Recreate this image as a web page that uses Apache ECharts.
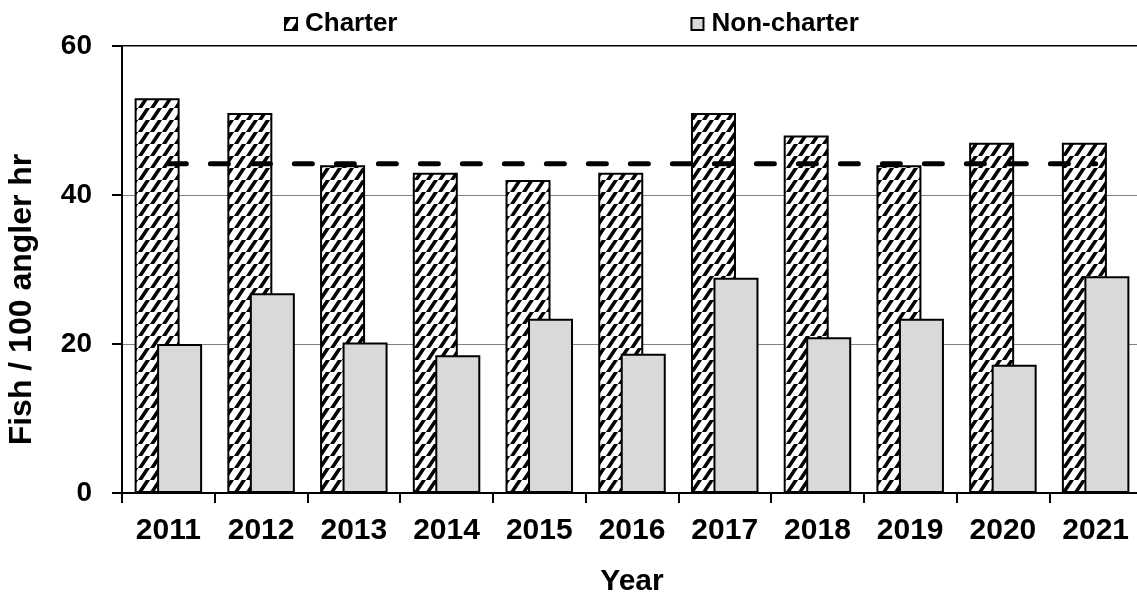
<!DOCTYPE html>
<html>
<head>
<meta charset="utf-8">
<script src="https://cdn.jsdelivr.net/npm/echarts@6/dist/echarts.min.js"></script>
<style>
  html, body { margin: 0; padding: 0; background: #fff; }
  #chart { width: 1137px; height: 599px; }
</style>
</head>
<body>
<div id="chart"></div>
<script>
const years = ['2011', '2012', '2013', '2014', '2015', '2016', '2017', '2018', '2019', '2020', '2021'];
const charter = [53, 51, 44, 43, 42, 43, 51, 48, 44, 47, 47];
const nonCharter = [20, 26.8, 20.2, 18.5, 23.4, 18.7, 28.9, 20.9, 23.4, 17.2, 29.1];
const charterMean = [44.2, 44.2, 44.2, 44.2, 44.2, 44.2, 44.2, 44.2, 44.2, 44.2, 44.2];
const yTicks = [0, 20, 40, 60];

// diagonal hatch for the charter bars
function hatch() {
  const c = document.createElement('canvas');
  c.width = 12;
  c.height = 12;
  const ctx = c.getContext('2d');
  ctx.fillStyle = '#fff';
  ctx.fillRect(0, 0, 12, 12);
  ctx.strokeStyle = '#000';
  ctx.lineWidth = 3.5;
  ctx.beginPath();
  for (let k = -12; k <= 24; k += 12) {
    ctx.moveTo(k - 12, 24);
    ctx.lineTo(k + 12, -12);
  }
  ctx.stroke();
  return c;
}

const font = 'Liberation Sans, Arial, sans-serif';
const chart = echarts.init(document.getElementById('chart'));

chart.setOption({
  animation: false,
  backgroundColor: '#fff',
  textStyle: { fontFamily: font, color: '#000' },
  legend: {
    data: ['Charter', 'Non-charter'],
    left: 279,
    top: 6,
    itemWidth: 12,
    itemHeight: 12,
    itemGap: 293,
    icon: 'rect',
    textStyle: { fontSize: 26, fontWeight: 'bold', color: '#000', fontFamily: font, padding: [0, 0, 0, 3] }
  },
  grid: {
    left: 122,
    top: 46,
    width: 1020,
    bottom: 106,
    outerBoundsMode: 'none',
    show: true,
    borderColor: '#000',
    borderWidth: 2,
    backgroundColor: 'transparent'
  },
  xAxis: {
    type: 'category',
    data: years,
    name: 'Year',
    nameLocation: 'middle',
    nameGap: 74,
    nameTextStyle: { fontSize: 30, fontWeight: 'bold', color: '#000' },
    axisLine: { lineStyle: { color: '#000', width: 2 } },
    axisTick: { show: true, length: 10, interval: 0, lineStyle: { color: '#000', width: 2 } },
    axisLabel: { margin: 23, fontSize: 30, fontWeight: 'bold', color: '#000', interval: 0 }
  },
  yAxis: {
    type: 'value',
    min: yTicks[0],
    max: yTicks[yTicks.length - 1],
    interval: 20,
    name: 'Fish / 100 angler hr',
    nameLocation: 'middle',
    nameGap: 84,
    nameTextStyle: { fontSize: 32, fontWeight: 'bold', color: '#000', padding: [0, 60, 0, 0] },
    axisLine: { show: true, lineStyle: { color: '#000', width: 2 } },
    axisTick: { show: true, length: 10, lineStyle: { color: '#000', width: 2 } },
    axisLabel: { margin: 30, fontSize: 28, fontWeight: 'bold', color: '#000' },
    splitLine: { show: true, lineStyle: { color: '#808080', width: 1 } }
  },
  series: [
    {
      name: 'Charter',
      type: 'bar',
      data: charter,
      barWidth: 45,
      barGap: '-50%',
      itemStyle: { color: { image: hatch(), repeat: 'repeat' }, borderColor: '#000', borderWidth: 2 }
    },
    {
      name: 'Non-charter',
      type: 'bar',
      data: nonCharter,
      barWidth: 45,
      barGap: '-50%',
      itemStyle: { color: '#d9d9d9', borderColor: '#000', borderWidth: 2 }
    },
    {
      name: 'Mean',
      type: 'line',
      data: charterMean,
      symbol: 'none',
      z: 5,
      lineStyle: { color: '#000', width: 5, type: [18, 24], cap: 'round' }
    }
  ]
});
</script>
</body>
</html>
